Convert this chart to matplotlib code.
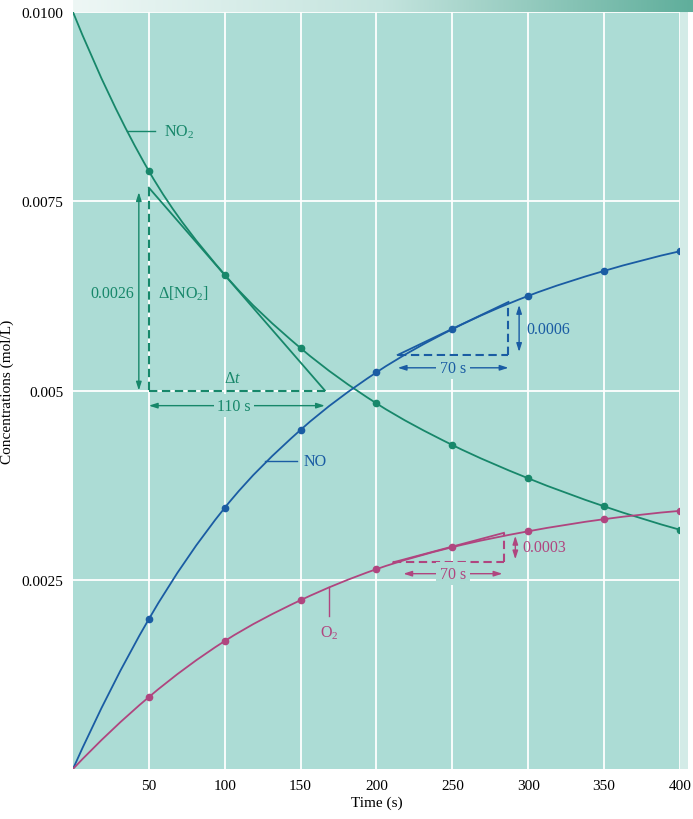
import numpy as np
import matplotlib.pyplot as plt
from matplotlib.path import Path
from matplotlib.patches import PathPatch
from matplotlib.colors import LinearSegmentedColormap

plt.rcParams['font.family'] = ['Liberation Serif', 'DejaVu Serif']
plt.rcParams['mathtext.fontset'] = 'custom'
plt.rcParams['mathtext.rm'] = 'Liberation Serif'
plt.rcParams['mathtext.it'] = 'Liberation Serif:italic'

# data
time = [0, 50, 100, 150, 200, 250, 300, 350, 400]
no2 = [0.0100, 0.00790, 0.00653, 0.00556, 0.00483, 0.00428, 0.00384, 0.00347, 0.00316]
no = [0, 0.00198, 0.00345, 0.00448, 0.00524, 0.00581, 0.00625, 0.00658, 0.00684]
o2 = [0, 0.00095, 0.00169, 0.00223, 0.00264, 0.00293, 0.00314, 0.00330, 0.00341]

xticks = [50, 100, 150, 200, 250, 300, 350, 400]
yticks = [0.0025, 0.005, 0.0075, 0.0100]
ylabels = ['0.0025', '0.005', '0.0075', '0.0100']

bg = '#acdcd5'
c_no2 = '#17876a'
c_no = '#1a5ca3'
c_o2 = '#b0457f'
fs = 11.5


def smooth_path(x, y):
    # Catmull-Rom curve through the points, drawn as cubic Bezier segments
    p = np.column_stack([x, y])
    first = 3 * p[0] - 3 * p[1] + p[2]
    last = 3 * p[-1] - 3 * p[-2] + p[-3]
    ext = np.vstack([first, p, last])
    verts = [p[0]]
    codes = [Path.MOVETO]
    for i in range(len(p) - 1):
        c1 = p[i] + (ext[i + 2] - ext[i]) / 6
        c2 = p[i + 1] - (ext[i + 3] - ext[i + 1]) / 6
        verts += [c1, c2, p[i + 1]]
        codes += [Path.CURVE4] * 3
    return Path(verts, codes)


fig = plt.figure(figsize=(6.93, 8.20), dpi=100)
ax = fig.add_axes([0.1053, 0.0610, 0.8759, 0.9231])
ax.set_facecolor(bg)

# bevel strips around the plot area
top = fig.add_axes([0.1053, 0.9841, 0.8947, 0.0159])
grad = np.linspace(0, 1, 256).reshape(1, -1)
cm = LinearSegmentedColormap.from_list('bev', ['#eef7f5', '#c4e4de', '#5fae9b'])
top.imshow(grad, aspect='auto', cmap=cm)
top.axis('off')
right = fig.add_axes([0.9812, 0.0610, 0.0115, 0.9231])
right.set_facecolor('#d3ebe7')
right.set_xticks([])
right.set_yticks([])
for s in right.spines.values():
    s.set_visible(False)

ax.set_xlim(0, 400)
ax.set_ylim(0, 0.0100)
for s in ax.spines.values():
    s.set_visible(False)
ax.set_xticks(xticks)
ax.set_yticks(yticks)
ax.set_yticklabels(ylabels)
ax.tick_params(length=0, labelsize=11, pad=7)
ax.grid(color='white', lw=1.3)
ax.set_axisbelow(True)
ax.set_xlabel('Time (s)', fontsize=11, labelpad=3)
ax.set_ylabel('Concentrations (mol/L)', fontsize=11, labelpad=5)

for y, c in [(no2, c_no2), (no, c_no), (o2, c_o2)]:
    ax.add_patch(PathPatch(smooth_path(time, y), fc='none', ec=c, lw=1.3))
    ax.plot(time[1:], y[1:], 'o', color=c, ms=4.5, zorder=4)

arrow = '<|-|>,head_length=0.5,head_width=0.16'
dash = dict(ls=(0, (4, 2.2)), lw=1.5)


def dbl(c, x0, y0, x1, y1):
    ax.annotate('', xy=(x1, y1), xytext=(x0, y0),
                arrowprops=dict(arrowstyle=arrow, color=c, lw=1.0,
                                shrinkA=0, shrinkB=0))


# NO2 tangent
ax.plot([50, 166], [0.00768, 0.0050], color=c_no2, lw=1.3)
ax.plot([50, 50], [0.00768, 0.0050], color=c_no2, **dash)
ax.plot([50, 166], [0.0050, 0.0050], color=c_no2, **dash)
dbl(c_no2, 43.4, 0.00762, 43.4, 0.0050)
ax.text(40, 0.00629, '0.0026', color=c_no2, fontsize=fs, ha='right', va='center')
ax.text(56, 0.00629, 'Δ[NO$_2$]', color=c_no2, fontsize=fs, ha='left', va='center')
ax.text(105, 0.00517, 'Δ$t$', color=c_no2, fontsize=fs, ha='center', va='center')
dbl(c_no2, 50, 0.0048, 166, 0.0048)
ax.text(106, 0.0048, '110 s', color=c_no2, fontsize=fs, ha='center', va='center',
        bbox=dict(fc=bg, ec='none', pad=2.5))

# NO tangent
ax.plot([214, 287], [0.00547, 0.00617], color=c_no, lw=1.3)
ax.plot([214, 287], [0.00547, 0.00547], color=c_no, **dash)
ax.plot([287, 287], [0.00547, 0.00617], color=c_no, **dash)
dbl(c_no, 294, 0.00551, 294, 0.00613)
ax.text(299, 0.00581, '0.0006', color=c_no, fontsize=fs, ha='left', va='center')
dbl(c_no, 214, 0.0053, 287, 0.0053)
ax.text(250.5, 0.0053, '70 s', color=c_no, fontsize=fs, ha='center', va='center',
        bbox=dict(fc=bg, ec='none', pad=2.5))

# O2 tangent
ax.plot([211, 284], [0.00273, 0.00312], color=c_o2, lw=1.3)
ax.plot([211, 284], [0.00273, 0.00273], color=c_o2, **dash)
ax.plot([284, 284], [0.00273, 0.00312], color=c_o2, **dash)
dbl(c_o2, 291.5, 0.00277, 291.5, 0.00308)
ax.text(296, 0.00293, '0.0003', color=c_o2, fontsize=fs, ha='left', va='center')
dbl(c_o2, 217.7, 0.00258, 283, 0.00258)
ax.text(250.5, 0.00258, '70 s', color=c_o2, fontsize=fs, ha='center', va='center',
        bbox=dict(fc=bg, ec='none', pad=2.5))

# curve labels with leader lines
ax.plot([35.6, 54.1], [0.00843, 0.00843], color=c_no2, lw=1.0)
ax.text(60, 0.00843, 'NO$_2$', color=c_no2, fontsize=fs, ha='left', va='center')
ax.plot([126.6, 147.8], [0.00407, 0.00407], color=c_no, lw=1.0)
ax.text(152, 0.00407, 'NO', color=c_no, fontsize=fs, ha='left', va='center')
ax.plot([169, 169], [0.0024, 0.00202], color=c_o2, lw=1.0)
ax.text(169, 0.0018, 'O$_2$', color=c_o2, fontsize=fs, ha='center', va='center')

fig.savefig('out.png', dpi=100)
